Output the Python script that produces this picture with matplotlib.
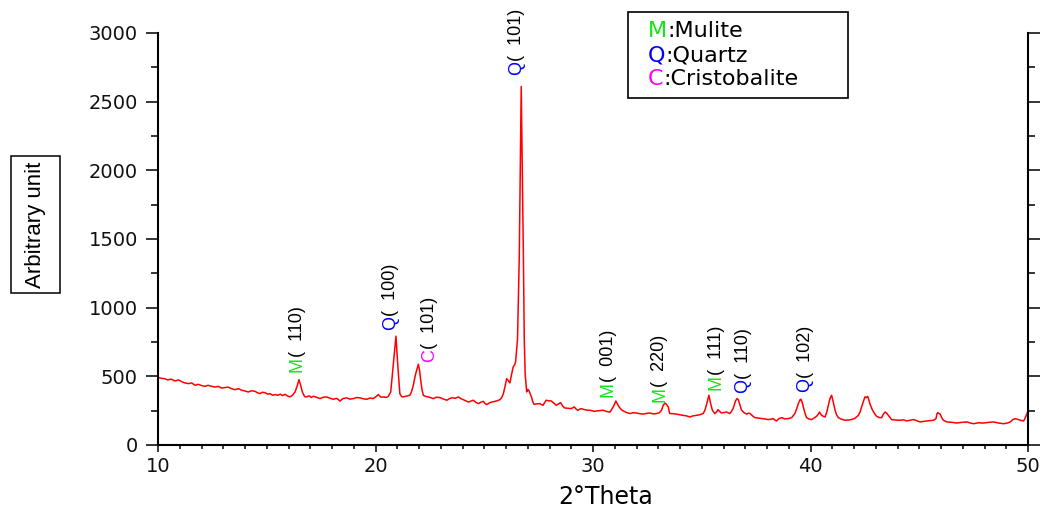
import matplotlib
matplotlib.use("Agg")
import matplotlib.pyplot as plt
from matplotlib import font_manager
from matplotlib.patches import Rectangle
from matplotlib.ticker import MultipleLocator

# XRD pattern (2-theta in degrees, intensity in arbitrary units)
two_theta = [
    10.00, 10.15, 10.30, 10.45, 10.60, 10.78, 10.95, 11.10, 11.24, 11.40,
    11.55, 11.70, 11.85, 12.00, 12.16, 12.30, 12.45, 12.62, 12.78, 12.92,
    13.08, 13.22, 13.38, 13.54, 13.70, 13.85, 14.00, 14.15, 14.30, 14.46,
    14.58, 14.69, 14.80, 14.92, 15.05, 15.15, 15.27, 15.38, 15.50, 15.62,
    15.73, 15.84, 15.95, 16.07, 16.18, 16.30, 16.40, 16.48, 16.55, 16.64,
    16.74, 16.83, 16.95, 17.05, 17.14, 17.30, 17.45, 17.60, 17.76, 17.90,
    18.06, 18.22, 18.37, 18.50, 18.68, 18.82, 18.98, 19.14, 19.29, 19.45,
    19.60, 19.75, 19.90, 20.02, 20.13, 20.25, 20.36, 20.48, 20.58, 20.70,
    20.82, 20.94, 21.04, 21.12, 21.20, 21.27, 21.42, 21.58, 21.66, 21.74,
    21.82, 21.89, 21.97, 22.03, 22.08, 22.14, 22.20, 22.30, 22.43, 22.55,
    22.66, 22.80, 22.97, 23.10, 23.20, 23.28, 23.43, 23.55, 23.66, 23.81,
    23.92, 24.04, 24.15, 24.27, 24.40, 24.50, 24.62, 24.73, 24.85, 24.96,
    25.03, 25.11, 25.22, 25.34, 25.45, 25.57, 25.65, 25.72, 25.80, 25.88,
    25.96, 26.03, 26.10, 26.18, 26.25, 26.33, 26.40, 26.44, 26.49, 26.53,
    26.61, 26.70, 26.80, 26.84, 26.88, 26.95, 27.00, 27.05, 27.12, 27.17,
    27.23, 27.29, 27.42, 27.55, 27.62, 27.70, 27.78, 27.85, 27.95, 28.08,
    28.20, 28.31, 28.40, 28.51, 28.60, 28.69, 28.82, 28.99, 29.14, 29.22,
    29.30, 29.45, 29.60, 29.75, 29.86, 30.06, 30.17, 30.30, 30.47, 30.62,
    30.78, 30.93, 31.05, 31.12, 31.20, 31.30, 31.39, 31.55, 31.70, 31.85,
    32.00, 32.15, 32.31, 32.45, 32.62, 32.78, 32.92, 33.05, 33.15, 33.22,
    33.30, 33.38, 33.46, 33.53, 33.68, 33.84, 34.00, 34.14, 34.30, 34.45,
    34.60, 34.75, 34.90, 35.06, 35.14, 35.21, 35.33, 35.41, 35.49, 35.60,
    35.68, 35.75, 35.82, 35.90, 36.00, 36.13, 36.22, 36.29, 36.37, 36.44,
    36.55, 36.62, 36.68, 36.76, 36.83, 36.95, 37.06, 37.14, 37.22, 37.35,
    37.45, 37.60, 37.76, 37.90, 38.06, 38.18, 38.29, 38.36, 38.44, 38.55,
    38.67, 38.82, 38.98, 39.14, 39.28, 39.36, 39.44, 39.52, 39.56, 39.62,
    39.67, 39.75, 39.82, 39.92, 40.05, 40.15, 40.28, 40.36, 40.41, 40.46,
    40.51, 40.60, 40.67, 40.75, 40.82, 40.90, 40.97, 41.05, 41.13, 41.20,
    41.28, 41.42, 41.59, 41.75, 41.89, 42.05, 42.20, 42.28, 42.35, 42.42,
    42.50, 42.57, 42.63, 42.68, 42.73, 42.84, 42.94, 43.04, 43.15, 43.27,
    43.35, 43.43, 43.50, 43.58, 43.73, 43.90, 44.12, 44.28, 44.42, 44.58,
    44.73, 44.88, 45.03, 45.20, 45.34, 45.50, 45.65, 45.77, 45.81, 45.85,
    45.90, 45.96, 46.03, 46.11, 46.27, 46.50, 46.73, 46.95, 47.19, 47.35,
    47.50, 47.72, 47.96, 48.20, 48.42, 48.65, 48.88, 49.05, 49.19, 49.30,
    49.42, 49.55, 49.65, 49.80, 49.88, 49.95, 50.00,
]
intensity = [
    491, 486, 483, 474, 480, 466, 474, 460, 452, 447,
    452, 435, 442, 433, 427, 435, 428, 422, 427, 415,
    418, 422, 410, 403, 410, 399, 393, 386, 395, 391,
    380, 374, 384, 381, 370, 374, 362, 367, 362, 370,
    360, 369, 357, 350, 362, 386, 430, 476, 440, 385,
    352, 350, 358, 346, 355, 347, 338, 348, 350, 341,
    333, 340, 320, 338, 343, 334, 338, 346, 343, 336,
    333, 342, 338, 352, 367, 348, 350, 346, 352, 386,
    593, 792, 544, 374, 352, 350, 356, 362, 390, 435,
    500, 544, 588, 540, 471, 400, 362, 354, 350, 344,
    338, 348, 345, 336, 330, 326, 340, 344, 340, 350,
    338, 330, 322, 313, 320, 326, 310, 301, 312, 318,
    303, 294, 305, 313, 316, 321, 326, 330, 345, 374,
    430, 483, 470, 452, 510, 568, 585, 604, 700, 770,
    1370, 2610, 1370, 770, 520, 386, 405, 398, 370, 350,
    315, 296, 300, 301, 295, 289, 310, 326, 322, 321,
    305, 289, 298, 309, 285, 270, 268, 265, 277, 262,
    253, 265, 258, 253, 253, 245, 248, 250, 253, 244,
    240, 277, 320, 300, 277, 258, 248, 236, 229, 235,
    233, 228, 225, 230, 233, 226, 229, 235, 253, 285,
    306, 295, 277, 229, 228, 225, 220, 216, 212, 204,
    212, 216, 220, 229, 250, 289, 362, 300, 253, 229,
    240, 257, 245, 233, 236, 240, 235, 229, 245, 265,
    320, 338, 330, 290, 253, 235, 225, 232, 229, 210,
    199, 196, 192, 190, 185, 188, 192, 182, 175, 192,
    199, 190, 192, 200, 229, 262, 301, 330, 333, 310,
    277, 230, 199, 190, 185, 195, 209, 225, 240, 228,
    216, 208, 204, 240, 289, 340, 362, 310, 253, 220,
    199, 188, 180, 182, 185, 195, 216, 240, 277, 310,
    350, 345, 354, 330, 301, 257, 230, 209, 200, 199,
    225, 240, 232, 216, 185, 182, 180, 183, 175, 180,
    185, 178, 168, 172, 175, 178, 180, 192, 225, 236,
    230, 225, 200, 180, 168, 165, 160, 165, 168, 160,
    155, 162, 160, 165, 168, 160, 155, 160, 168, 185,
    192, 185, 180, 175, 200, 229, 248,
]

# Peak annotations: phase letter, (hkl), label anchor (2-theta, intensity)
peak_phase = ["M", "Q", "C", "Q", "M", "M", "M", "Q", "Q"]
peak_hkl = ["110", "100", "101", "101", "001", "220", "111", "110", "102"]
peak_x = [16.40, 20.70, 22.50, 26.49, 30.70, 33.08, 35.66, 36.90, 39.75]
peak_y = [529, 835, 605, 2693, 350, 313, 403, 379, 386]

phase_letters = ["M", "Q", "C"]
phase_names = ["Mulite", "Quartz", "Cristobalite"]
phase_colors = {"M": "#14e614", "Q": "#0000ff", "C": "#ff00ff"}


def has_font(name):
    try:
        font_manager.findfont(font_manager.FontProperties(family=name),
                              fallback_to_default=False)
        return True
    except Exception:
        return False


narrow = "Liberation Sans Narrow" if has_font("Liberation Sans Narrow") else "Liberation Sans"
narrow_size = 15 if narrow == "Liberation Sans Narrow" else 13

W, H = 1042, 509
fig = plt.figure(figsize=(W / 100, H / 100), dpi=100)
ax = fig.add_axes([158 / W, 1 - 445 / H, (1028 - 158) / W, (445 - 33) / H])

ax.plot(two_theta, intensity, color="#ff0000", lw=1.1)

ax.set_xlim(10, 50)
ax.set_ylim(0, 3000)
ax.xaxis.set_major_locator(MultipleLocator(10))
ax.xaxis.set_minor_locator(MultipleLocator(1))
ax.yaxis.set_major_locator(MultipleLocator(500))
ax.yaxis.set_minor_locator(MultipleLocator(250))

for side in ["left", "bottom", "right"]:
    ax.spines[side].set_linewidth(1.5)
ax.spines["top"].set_visible(False)

ax.tick_params(axis="y", which="both", direction="out", right=True,
               labelright=False, width=1.1)
ax.tick_params(axis="y", which="major", length=8.5, pad=6)
ax.tick_params(axis="y", which="minor", length=5)
ax.tick_params(axis="x", which="both", direction="out", top=False, width=1.1)
ax.tick_params(axis="x", which="major", length=5, pad=4)
ax.tick_params(axis="x", which="minor", length=3)
for lab in ax.get_xticklabels() + ax.get_yticklabels():
    lab.set_fontfamily("DejaVu Sans")
    lab.set_fontsize(14)
    lab.set_color("#111111")

# Peak labels: coloured phase letter followed by black Miller indices
for ph, hkl, x, y in zip(peak_phase, peak_hkl, peak_x, peak_y):
    t = ax.text(x, y, ph, color=phase_colors[ph], rotation=90,
                ha="center", va="bottom", family=narrow, fontsize=narrow_size)
    ax.annotate(f"(  {hkl})", xy=(0.5, 1.0), xycoords=t, rotation=90,
                ha="center", va="bottom", family=narrow,
                fontsize=narrow_size, color="black")

# Phase key box
fig.patches.append(Rectangle((628 / W, 1 - 98 / H), 220 / W, 86 / H,
                             fill=False, ec="black", lw=1.2,
                             transform=fig.transFigure, figure=fig))
for i, (ph, name) in enumerate(zip(phase_letters, phase_names)):
    yc = 1 - (31 + 24 * i) / H
    t = fig.text(648 / W, yc, ph, color=phase_colors[ph], ha="left",
                 va="center", family="DejaVu Sans", fontsize=16)
    ax.annotate(":" + name, xy=(1.0, 0.5), xycoords=t, ha="left",
                va="center", family="DejaVu Sans", fontsize=16,
                color="black", annotation_clip=False)

# Axis titles
fig.text(606 / W, 1 - 497 / H, "2°Theta", ha="center", va="center",
         family="DejaVu Sans", fontsize=17)
fig.patches.append(Rectangle((11 / W, 1 - 293 / H), 49 / W, 137 / H,
                             fill=False, ec="black", lw=1.1,
                             transform=fig.transFigure, figure=fig))
fig.text(36 / W, 1 - 225 / H, "Arbitrary unit", rotation=90, ha="center",
         va="center", family="Liberation Sans", fontsize=16)

fig.savefig("out.png", dpi=100)
